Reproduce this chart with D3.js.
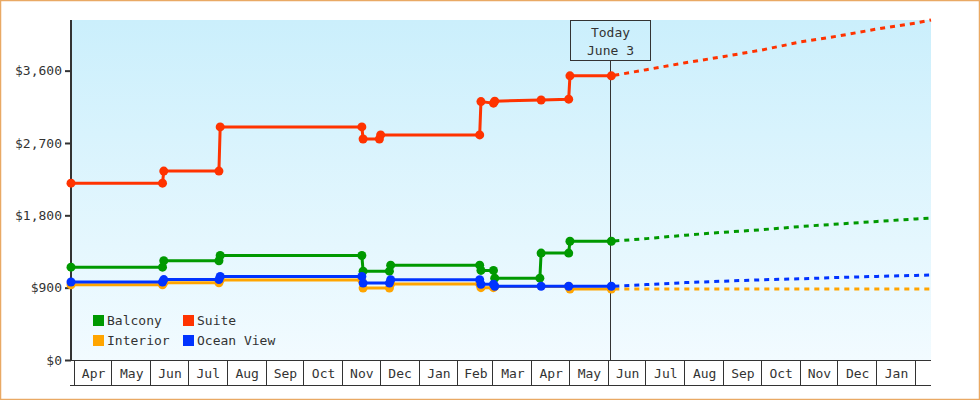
<!DOCTYPE html>
<html>
<head>
<meta charset="utf-8">
<script src="https://cdn.jsdelivr.net/npm/d3@7"></script>
<style>
  html, body { margin: 0; padding: 0; background: #fff; }
  svg { display: block; }
  text { font-family: "DejaVu Sans Mono", "Liberation Mono", monospace; font-size: 13px; fill: #333; }
</style>
</head>
<body>
<svg id="chart" width="980" height="400"></svg>
<script>
// ---------------- DATA ----------------
const seriesNames = ["Balcony", "Suite", "Interior", "Ocean View"];
const seriesColors = ["#009900", "#ff3300", "#ffa500", "#0033ff"];
const yTicks = [0, 900, 1800, 2700, 3600];
const todayDate = "2014-06-03";
const todayLabel = ["Today", "June 3"];
const domainDates = ["2013-03-29", "2015-02-13"];

const balcony = [
  ["2013-03-29", 1155], ["2013-06-10", 1155], ["2013-06-11", 1235], ["2013-07-25", 1235],
  ["2013-07-26", 1300], ["2013-11-16", 1300], ["2013-11-17", 1105], ["2013-12-08", 1105],
  ["2013-12-09", 1180], ["2014-02-18", 1180], ["2014-02-19", 1115], ["2014-03-01", 1115],
  ["2014-03-02", 1018], ["2014-04-07", 1018], ["2014-04-08", 1330], ["2014-04-30", 1330],
  ["2014-05-01", 1478], ["2014-06-03", 1478]
];
const suite = [
  ["2013-03-29", 2200], ["2013-06-10", 2200], ["2013-06-11", 2350], ["2013-07-25", 2350],
  ["2013-07-26", 2900], ["2013-11-16", 2900], ["2013-11-17", 2750], ["2013-11-30", 2750],
  ["2013-12-01", 2800], ["2014-02-18", 2800], ["2014-02-19", 3215], ["2014-03-01", 3195],
  ["2014-03-02", 3220], ["2014-04-08", 3235], ["2014-04-30", 3245], ["2014-05-01", 3535],
  ["2014-06-03", 3535]
];
const interior = [
  ["2013-03-29", 935], ["2013-06-10", 935], ["2013-06-11", 960], ["2013-07-25", 960],
  ["2013-07-26", 995], ["2013-11-16", 995], ["2013-11-17", 895], ["2013-12-08", 895],
  ["2013-12-09", 945], ["2014-02-18", 945], ["2014-02-19", 900], ["2014-03-01", 900],
  ["2014-03-02", 915], ["2014-04-30", 915], ["2014-05-01", 882], ["2014-06-03", 882]
];
const oceanView = [
  ["2013-03-29", 970], ["2013-06-10", 970], ["2013-06-11", 1000], ["2013-07-25", 1000],
  ["2013-07-26", 1040], ["2013-11-16", 1040], ["2013-11-17", 957], ["2013-12-08", 957],
  ["2013-12-09", 998], ["2014-02-18", 998], ["2014-02-19", 942], ["2014-03-01", 942],
  ["2014-03-02", 917], ["2014-04-08", 917], ["2014-04-30", 917], ["2014-06-03", 917]
];

// projections (dashed)
const projDates = ["2014-06-03", "2014-07-01", "2014-08-01", "2014-09-01", "2014-10-01",
                   "2014-11-01", "2014-12-01", "2015-01-01", "2015-02-01", "2015-02-13"];
const balconyProj  = [1478, 1510, 1553, 1590, 1621, 1661, 1692, 1724, 1755, 1766];
const suiteProj    = [3535, 3612, 3698, 3776, 3857, 3957, 4031, 4118, 4193, 4230];
const interiorProj = [882, 882, 883, 883, 883, 883, 883, 883, 883, 883];
const oceanProj    = [917, 938, 963, 981, 998, 1010, 1027, 1040, 1052, 1058];

const yMax = 4230;

// ---------------- CHART ----------------
const parse = d3.timeParse("%Y-%m-%d");
const svg = d3.select("#chart");
const W = 980, H = 400;
const L = 71, R = 931, T = 20, B = 360, AXB = 385;

const x = d3.scaleTime().domain(domainDates.map(parse)).range([L, R]);
const y = d3.scaleLinear().domain([0, yMax]).range([B, T]);

// outer border
svg.append("rect").attr("x", 0.5).attr("y", 0.5).attr("width", W - 1).attr("height", H - 1)
  .attr("fill", "#fff").attr("stroke", "#e9a964").attr("stroke-width", 1.5);

// background gradient
const defs = svg.append("defs");
const grad = defs.append("linearGradient").attr("id", "bg").attr("x1", 0).attr("y1", 0).attr("x2", 0).attr("y2", 1);
grad.append("stop").attr("offset", "0%").attr("stop-color", "#cbeffc");
grad.append("stop").attr("offset", "100%").attr("stop-color", "#f2fbff");
svg.append("rect").attr("x", L).attr("y", T).attr("width", R - L).attr("height", B - T).attr("fill", "url(#bg)");

// x axis cells
const months = x.ticks(d3.timeMonth.every(1));
const fmtMonth = d3.timeFormat("%b");
const xg = svg.append("g");
xg.append("line").attr("x1", L - 1).attr("x2", R).attr("y1", B + 0.5).attr("y2", B + 0.5)
  .attr("stroke", "#333").attr("stroke-width", 1).attr("shape-rendering", "crispEdges");
xg.append("line").attr("x1", L - 1).attr("x2", R).attr("y1", AXB + 0.5).attr("y2", AXB + 0.5)
  .attr("stroke", "#333").attr("stroke-width", 1).attr("shape-rendering", "crispEdges");
xg.selectAll("line.sep").data(months).join("line").attr("class", "sep")
  .attr("x1", d => Math.round(x(d)) - 0.5).attr("x2", d => Math.round(x(d)) - 0.5)
  .attr("y1", B).attr("y2", AXB)
  .attr("stroke", "#333").attr("stroke-width", 1).attr("shape-rendering", "crispEdges");
xg.selectAll("text.mlab").data(months.slice(0, -1)).join("text").attr("class", "mlab")
  .attr("x", (d, i) => (x(d) + x(months[i + 1])) / 2)
  .attr("y", 378)
  .attr("text-anchor", "middle")
  .text(d => fmtMonth(d));

// y axis
const yAxis = d3.axisLeft(y).tickValues(yTicks).tickSize(6).tickPadding(3)
  .tickFormat(d => "$" + d3.format(",")(d));
const yg = svg.append("g").attr("transform", `translate(${L},0)`).call(yAxis);
yg.select(".domain").remove();
yg.selectAll(".tick line").attr("stroke", "#333").attr("stroke-width", 2);
yg.selectAll(".tick text").attr("fill", "#333").style("font-family", "DejaVu Sans Mono, monospace").style("font-size", "13px");
svg.append("line").attr("x1", L).attr("x2", L).attr("y1", T).attr("y2", B + 1)
  .attr("stroke", "#333").attr("stroke-width", 2);

// today marker
const tx = Math.floor(x(parse(todayDate))) - 0.5;
svg.append("line").attr("x1", tx).attr("x2", tx).attr("y1", 60).attr("y2", B)
  .attr("stroke", "#333").attr("stroke-width", 1).attr("shape-rendering", "crispEdges");
svg.append("rect").attr("x", tx - 40).attr("y", T + 0.5).attr("width", 80).attr("height", 40)
  .attr("fill", "none").attr("stroke", "#333").attr("stroke-width", 1).attr("shape-rendering", "crispEdges");
svg.append("text").attr("x", tx).attr("y", 37).attr("text-anchor", "middle").text(todayLabel[0]);
svg.append("text").attr("x", tx).attr("y", 55).attr("text-anchor", "middle").text(todayLabel[1]);

// series
const actual = [balcony, suite, interior, oceanView];
const proj = [balconyProj, suiteProj, interiorProj, oceanProj];
const drawOrder = [0, 2, 1, 3];
const line = d3.line().x(d => x(d[0])).y(d => y(d[1]));

drawOrder.forEach(i => {
  const pts = proj[i].map((v, k) => [parse(projDates[k]), v]);
  svg.append("path").datum(pts).attr("d", line)
    .attr("fill", "none").attr("stroke", seriesColors[i]).attr("stroke-width", 3)
    .attr("stroke-dasharray", "5,5").attr("stroke-dashoffset", -3);
});

drawOrder.forEach(i => {
  const pts = actual[i].map(d => [parse(d[0]), d[1]]);
  const g = svg.append("g");
  g.append("path").datum(pts).attr("d", line)
    .attr("fill", "none").attr("stroke", seriesColors[i]).attr("stroke-width", 3)
    .attr("stroke-linejoin", "miter");
  g.selectAll("circle").data(pts).join("circle")
    .attr("cx", d => x(d[0])).attr("cy", d => y(d[1])).attr("r", 4.5)
    .attr("fill", seriesColors[i]);
});

// legend
const legPos = [[93, 315], [183, 315], [93, 335], [183, 335]];
seriesNames.forEach((name, i) => {
  const [lx, ly] = legPos[i];
  svg.append("rect").attr("x", lx).attr("y", ly).attr("width", 11).attr("height", 11)
    .attr("fill", seriesColors[i]);
  svg.append("text").attr("x", lx + 14).attr("y", ly + 10).text(name);
});
</script>
</body>
</html>
